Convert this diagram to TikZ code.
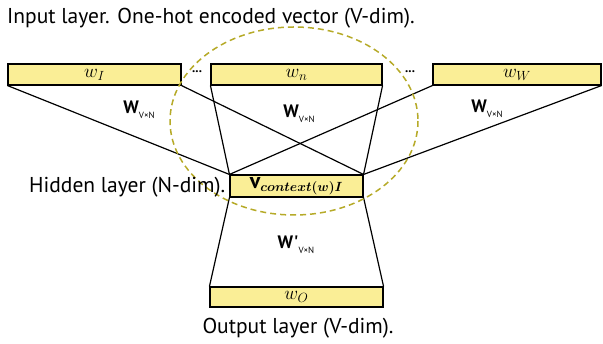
\documentclass[tikz,border=0pt]{standalone}
\usepackage{fix-cm}
\usepackage{amsmath}
\usepackage{fontspec}
\usepackage{tikz}

\newfontfamily\lblfont{PT Sans}
\definecolor{boxyellow}{RGB}{250,238,150}
\definecolor{olivedash}{RGB}{182,170,40}

% bold W with a small V x N index
\newcommand{\wmat}[1]{{\lblfont\bfseries\fontsize{18}{18}\selectfont W#1}%
	{\lblfont\fontsize{9}{9}\selectfont\raisebox{-5pt}{V×N}}}

\begin{document}
\begin{tikzpicture}[x=1pt,y=-1pt,
	layerbox/.style={draw,line width=1.1pt,fill=boxyellow,inner sep=0pt,
		minimum height=21pt,font=\fontsize{19}{19}\selectfont},
	caption/.style={font=\lblfont\fontsize{21.5}{21.5}\selectfont,inner sep=0pt},
	wire/.style={line width=1.2pt,black}]
	\useasboundingbox (0,0) rectangle (603,344);

	\pgfmathsetmacro{\yin}{74.5}
	\pgfmathsetmacro{\xmid}{296.5}

	% input layer
	\node[layerbox,minimum width=173pt] (in1) at (94.5,\yin) {$w_I$};
	\node[layerbox,minimum width=171pt] (inn) at (\xmid,\yin) {$w_n$};
	\node[layerbox,minimum width=168pt] (inW) at (517,\yin) {$w_W$};
	\foreach \x/\nm in {197/dotsa,410/dotsb} {
		\node[font=\lblfont\bfseries\fontsize{13}{13}\selectfont,inner sep=0pt] (\nm) at (\x,72) {...};
	}

	% hidden and output layer
	\node[layerbox,minimum width=133pt,minimum height=22pt] (hid) at (\xmid,186)
	  {{\lblfont\bfseries\fontsize{22}{22}\selectfont v}$_{\boldsymbol{context(w)I}}$};
	\node[layerbox,minimum width=173pt,minimum height=20pt] (out) at (\xmid,297) {$w_O$};

	% weights
	\foreach \a in {in1,inn,inW} {
		\draw[wire] (\a.south west) -- (hid.north west);
		\draw[wire] (\a.south east) -- (hid.north east);
	}
	\draw[wire] (hid.south west) -- (out.north west);
	\draw[wire] (hid.south east) -- (out.north east);

	\node (w1) at (139,110) {\wmat{}};
	\node (wn) at (299,114) {\wmat{}};
	\node (wW) at (487,109) {\wmat{}};
	\node (wout) at (296,245) {\wmat{'}};

	\draw[olivedash,line width=1.5pt,dash pattern=on 6pt off 4pt]
	  (294,121) ellipse[x radius=124,y radius=94];

	% captions
	\node[caption,anchor=west] (capin) at (7,18) {Input layer. One-hot encoded vector (V-dim).};
	\node[caption,anchor=west] (caphid) at (29,187) {Hidden layer (N-dim).};
	\node[caption] (capout) at (298,328) {Output layer (V-dim).};
\end{tikzpicture}
\end{document}
